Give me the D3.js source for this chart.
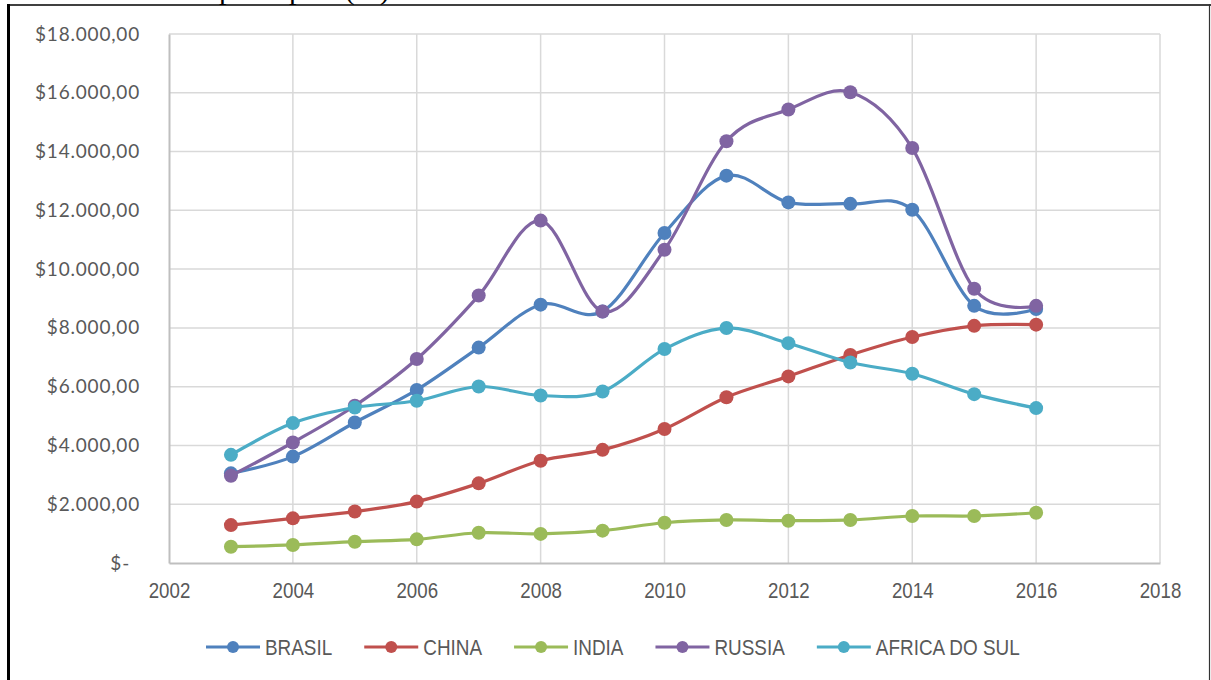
<!DOCTYPE html>
<html>
<head>
<meta charset="utf-8">
<script src="https://cdn.jsdelivr.net/npm/d3@7"></script>
<style>
  html, body { margin: 0; padding: 0; background: #fff; }
  svg { display: block; }
</style>
</head>
<body>
<svg id="chart" width="1211" height="680"></svg>
<script>
// ---- data ----
const years = [2003, 2004, 2005, 2006, 2007, 2008, 2009, 2010, 2011, 2012, 2013, 2014, 2015, 2016];
const seriesNames = ["BRASIL", "CHINA", "INDIA", "RUSSIA", "AFRICA DO SUL"];
const brasil = [3050, 3620, 4780, 5890, 7330, 8790, 8560, 11230, 13180, 12270, 12220, 12020, 8750, 8640];
const china  = [1290, 1520, 1750, 2090, 2710, 3480, 3850, 4560, 5640, 6350, 7080, 7690, 8070, 8110];
const india  = [555, 615, 725, 805, 1030, 990, 1100, 1370, 1465, 1440, 1465, 1600, 1600, 1710];
const russia = [2970, 4100, 5350, 6940, 9100, 11650, 8560, 10660, 14350, 15430, 16020, 14120, 9330, 8750];
const africa = [3680, 4760, 5290, 5520, 6005, 5700, 5835, 7280, 7995, 7480, 6820, 6440, 5745, 5270];
const xTicks = [2002, 2004, 2006, 2008, 2010, 2012, 2014, 2016, 2018];
const yTicks = [0, 2000, 4000, 6000, 8000, 10000, 12000, 14000, 16000, 18000];
const colors = ["#4F81BD", "#C0504D", "#9BBB59", "#8064A2", "#4BACC6"];
const allValues = [brasil, china, india, russia, africa];

// ---- layout ----
const svg = d3.select("#chart");
const plotL = 169, plotR = 1160, plotT = 34, plotB = 563;

const x = d3.scaleLinear().domain([2002, 2018]).range([plotL, plotR]);
const y = d3.scaleLinear().domain([0, 18000]).range([plotB, plotT]);

// condense a text horizontally (narrow look of the reference font)
function condense(sel, k) {
  sel.each(function() {
    const len = this.getComputedTextLength();
    d3.select(this).attr("textLength", len * k).attr("lengthAdjust", "spacingAndGlyphs");
  });
}

// document text fragment above the chart frame (cropped, as in the reference)
svg.append("text")
  .attr("x", 219).attr("y", -1)
  .attr("font-family", "Liberation Serif, serif")
  .attr("font-size", 30)
  .attr("fill", "#000")
  .text("principais (%)");

// chart frame
svg.append("line").attr("x1", 8).attr("x2", 1211).attr("y1", 5).attr("y2", 5)
  .attr("stroke", "#000").attr("stroke-width", 1.5);
svg.append("line").attr("x1", 8.5).attr("x2", 8.5).attr("y1", 4).attr("y2", 680)
  .attr("stroke", "#000").attr("stroke-width", 3);
svg.append("line").attr("x1", 1209.5).attr("x2", 1209.5).attr("y1", 4).attr("y2", 680)
  .attr("stroke", "#333").attr("stroke-width", 1.2);

// gridlines
const grid = svg.append("g");
grid.selectAll("line.h").data(yTicks.filter(d => d > 0)).join("line")
  .attr("x1", plotL).attr("x2", plotR)
  .attr("y1", d => y(d)).attr("y2", d => y(d))
  .attr("stroke", "#D9D9D9").attr("stroke-width", 1.5);
grid.selectAll("line.v").data(xTicks.filter(d => d > 2002)).join("line")
  .attr("x1", d => x(d)).attr("x2", d => x(d))
  .attr("y1", plotT).attr("y2", plotB)
  .attr("stroke", "#D9D9D9").attr("stroke-width", 1.5);

// axes
const fmtMoney = d => d === 0 ? "$-" :
  "$" + d3.format(",.2f")(d).replace(/,/g, "#").replace(".", ",").replace(/#/g, ".");
const yAxis = d3.axisLeft(y).tickValues(yTicks).tickSize(0).tickPadding(29).tickFormat(fmtMoney);
const gy = svg.append("g").attr("transform", `translate(${plotL},0)`).call(yAxis);
gy.select(".domain").attr("stroke", "#BFBFBF").attr("stroke-width", 2);
gy.selectAll("text")
  .attr("font-family", "Lato, sans-serif").attr("font-size", 19)
  .attr("letter-spacing", "0.8px")
  .attr("fill", "#595959");
gy.selectAll(".tick").filter(d => d === 0).select("text").attr("dx", -10);

const xAxis = d3.axisBottom(x).tickValues(xTicks).tickSize(0).tickPadding(19).tickFormat(d3.format("d"));
const gx = svg.append("g").attr("transform", `translate(0,${plotB})`).call(xAxis);
gx.select(".domain").attr("stroke", "#BFBFBF").attr("stroke-width", 2);
gx.selectAll("text")
  .attr("font-family", "Liberation Sans, sans-serif").attr("font-size", 22)
  .attr("fill", "#595959")
  .call(condense, 0.85);

// series
const line = d3.line()
  .x((d, i) => x(years[i]))
  .y(d => y(d))
  .curve(d3.curveCardinal.tension(0));

allValues.forEach((vals, si) => {
  const g = svg.append("g");
  g.append("path").datum(vals)
    .attr("d", line)
    .attr("fill", "none")
    .attr("stroke", colors[si])
    .attr("stroke-width", 3.2)
    .attr("stroke-linejoin", "round")
    .attr("stroke-linecap", "round");
  g.selectAll("circle").data(vals).join("circle")
    .attr("cx", (d, i) => x(years[i]))
    .attr("cy", d => y(d))
    .attr("r", 7)
    .attr("fill", colors[si]);
});

// legend
const legendY = 647;
const legend = svg.append("g");
const items = legend.selectAll("g").data(seriesNames).join("g");
items.append("line").attr("x1", 0).attr("x2", 54).attr("y1", 0).attr("y2", 0)
  .attr("stroke", (d, i) => colors[i]).attr("stroke-width", 3.2);
items.append("circle").attr("cx", 27).attr("cy", 0).attr("r", 6)
  .attr("fill", (d, i) => colors[i]);
items.append("text").attr("x", 59).attr("y", 0).attr("dy", "0.36em")
  .attr("font-family", "Liberation Sans, sans-serif").attr("font-size", 22.5)
  .attr("fill", "#595959")
  .text(d => d)
  .call(condense, 0.84);
let cursor = 206;
items.each(function() {
  const w = +d3.select(this).select("text").attr("textLength");
  d3.select(this).attr("transform", `translate(${cursor},${legendY})`);
  cursor += 59 + w + 32;
});
</script>
</body>
</html>
